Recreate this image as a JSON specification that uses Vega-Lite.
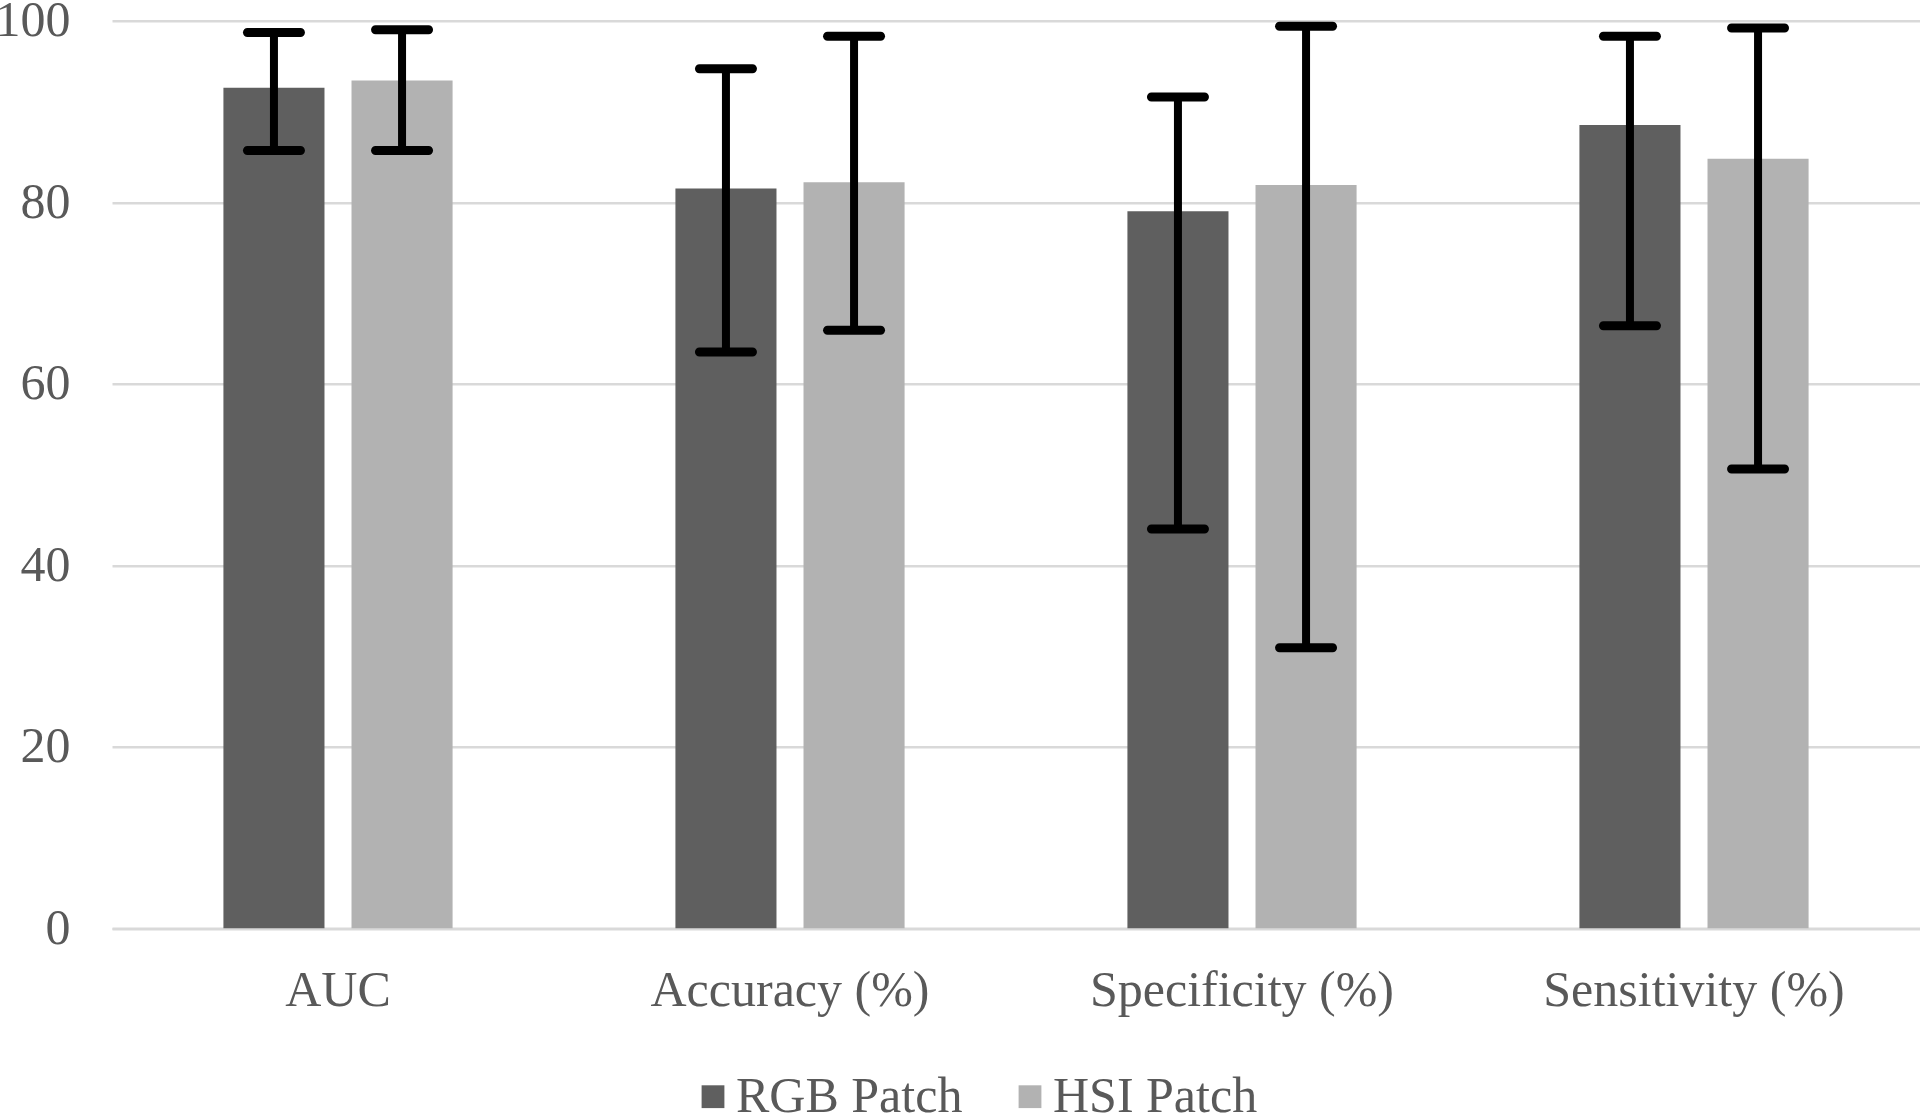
{
  "$schema": "https://vega.github.io/schema/vega-lite/v6.json",
  "width": 1808,
  "height": 907.6,
  "autosize": {"type": "none"},
  "padding": {"left": 112, "top": 20.7, "right": 0, "bottom": 186.7},
  "config": {
    "font": "Liberation Serif",
    "view": {"stroke": null},
    "axis": {"labelFont": "Liberation Serif", "labelColor": "#595959", "labelFontSize": 50}
  },
  "data": {
    "values": [
      {"metric": "AUC", "series": "RGB Patch", "value": 92.6, "lo": 85.7, "hi": 98.7},
      {"metric": "AUC", "series": "HSI Patch", "value": 93.4, "lo": 85.7, "hi": 99.0},
      {"metric": "Accuracy (%)", "series": "RGB Patch", "value": 81.5, "lo": 63.5, "hi": 94.7},
      {"metric": "Accuracy (%)", "series": "HSI Patch", "value": 82.2, "lo": 65.9, "hi": 98.3},
      {"metric": "Specificity (%)", "series": "RGB Patch", "value": 79.0, "lo": 44.0, "hi": 91.6},
      {"metric": "Specificity (%)", "series": "HSI Patch", "value": 81.9, "lo": 30.9, "hi": 99.4},
      {"metric": "Sensitivity (%)", "series": "RGB Patch", "value": 88.5, "lo": 66.4, "hi": 98.3},
      {"metric": "Sensitivity (%)", "series": "HSI Patch", "value": 84.8, "lo": 50.6, "hi": 99.2}
    ]
  },
  "encoding": {
    "x": {
      "field": "metric",
      "type": "nominal",
      "sort": ["AUC", "Accuracy (%)", "Specificity (%)", "Sensitivity (%)"],
      "title": null,
      "scale": {"paddingInner": 0.493, "paddingOuter": 0.2465},
      "axis": {
        "labelAngle": 0,
        "ticks": false,
        "labelPadding": 37,
        "labelLimit": 600,
        "domainColor": "#d9d9d9",
        "domainWidth": 2.5,
        "grid": false
      }
    },
    "xOffset": {
      "field": "series",
      "type": "nominal",
      "sort": ["RGB Patch", "HSI Patch"],
      "scale": {"paddingInner": 0.211, "paddingOuter": 0}
    }
  },
  "layer": [
    {
      "mark": {"type": "bar"},
      "encoding": {
        "y": {
          "field": "value",
          "type": "quantitative",
          "title": null,
          "scale": {"domain": [0, 100], "nice": false},
          "axis": {
            "values": [0, 20, 40, 60, 80, 100],
            "ticks": false,
            "domain": false,
            "gridColor": "#d9d9d9",
            "gridWidth": 2.5,
            "labelPadding": 42
          }
        },
        "color": {
          "field": "series",
          "type": "nominal",
          "sort": ["RGB Patch", "HSI Patch"],
          "scale": {"domain": ["RGB Patch", "HSI Patch"], "range": ["#5f5f5f", "#b2b2b2"]},
          "legend": {
            "orient": "none",
            "legendX": 576,
            "legendY": 1051,
            "direction": "horizontal",
            "title": null,
            "padding": 0,
            "symbolType": "square",
            "symbolSize": 520,
            "symbolStrokeWidth": 0,
            "symbolOpacity": 1,
            "labelFont": "Liberation Serif",
            "labelFontSize": 50,
            "labelColor": "#595959",
            "labelOffset": -2,
            "columnPadding": 42,
            "labelLimit": 400
          }
        }
      }
    },
    {
      "mark": {"type": "rule", "strokeWidth": 8, "color": "#000000"},
      "encoding": {
        "y": {"field": "lo", "type": "quantitative", "title": null},
        "y2": {"field": "hi"}
      }
    },
    {
      "mark": {"type": "tick", "thickness": 9, "size": 62, "cornerRadius": 4.5, "color": "#000000", "opacity": 1},
      "encoding": {
        "y": {"field": "hi", "type": "quantitative", "title": null}
      }
    },
    {
      "mark": {"type": "tick", "thickness": 9, "size": 62, "cornerRadius": 4.5, "color": "#000000", "opacity": 1},
      "encoding": {
        "y": {"field": "lo", "type": "quantitative", "title": null}
      }
    }
  ]
}
